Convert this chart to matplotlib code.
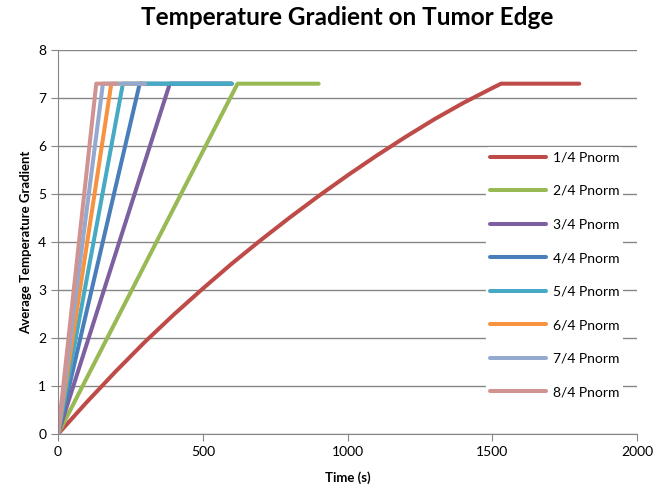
import matplotlib
matplotlib.use("Agg")
import matplotlib.pyplot as plt

plt.rcParams['font.family'] = ['Lato', 'DejaVu Sans']

# 1/4 Pnorm curve
t_quarter = [0, 100, 200, 300, 400, 500, 600, 700, 800, 900, 1000, 1100, 1200, 1300, 1400, 1500, 1530, 1800]
g_quarter = [0, 0.67, 1.31, 1.92, 2.49, 3.03, 3.55, 4.04, 4.51, 4.96, 5.39, 5.80, 6.19, 6.56, 6.90, 7.21, 7.3, 7.3]

# other powers: straight rise, then flat
labels = ["1/4 Pnorm", "2/4 Pnorm", "3/4 Pnorm", "4/4 Pnorm",
          "5/4 Pnorm", "6/4 Pnorm", "7/4 Pnorm", "8/4 Pnorm"]
rise_end = [620, 386, 282, 224, 184, 155, 132]
run_end = [900, 600, 600, 600, 300, 300, 200]
plateau = 7.3

colors = ["#BE4B48", "#98B954", "#7D60A0", "#4A7EBB",
          "#46AAC5", "#F69240", "#93A9CF", "#D19392"]

fig = plt.figure(figsize=(6.7, 4.91), dpi=100)
ax = fig.add_axes([0.0866, 0.116, 0.8644, 0.782])

ax.plot(t_quarter, g_quarter, color=colors[0], lw=2.9, label=labels[0],
        solid_capstyle='round', solid_joinstyle='round')
for i in range(len(rise_end)):
    xs = [0, rise_end[i], run_end[i]]
    ys = [0, plateau, plateau]
    ax.plot(xs, ys, color=colors[i + 1], lw=2.9, label=labels[i + 1],
            solid_capstyle='round', solid_joinstyle='round')

ax.set_xlim(0, 2000)
ax.set_ylim(0, 8)
ax.set_xticks([0, 500, 1000, 1500, 2000])
ax.set_yticks(range(0, 9))
ax.grid(axis='y', color='#868686', lw=1)
ax.set_axisbelow(True)
for s in ['top', 'right']:
    ax.spines[s].set_visible(False)
for s in ['left', 'bottom']:
    ax.spines[s].set_color('#868686')
ax.tick_params(colors='#868686', labelcolor='black', labelsize=10, length=5)

ax.set_title("Temperature Gradient on Tumor Edge", fontsize=17.5, fontweight='bold', pad=18)
ax.set_xlabel("Time (s)", fontsize=9.5, fontweight='bold', labelpad=10)
ax.set_ylabel("Average Temperature Gradient", fontsize=9.5, fontweight='bold')

leg = ax.legend(loc='upper left', bbox_to_anchor=(0.727, 0.765), frameon=True,
                edgecolor='none', facecolor='white', framealpha=1,
                fontsize=10, handlelength=4.0, handletextpad=0.5, labelspacing=1.55,
                borderpad=0.3)

fig.savefig("out.png", dpi=100)
